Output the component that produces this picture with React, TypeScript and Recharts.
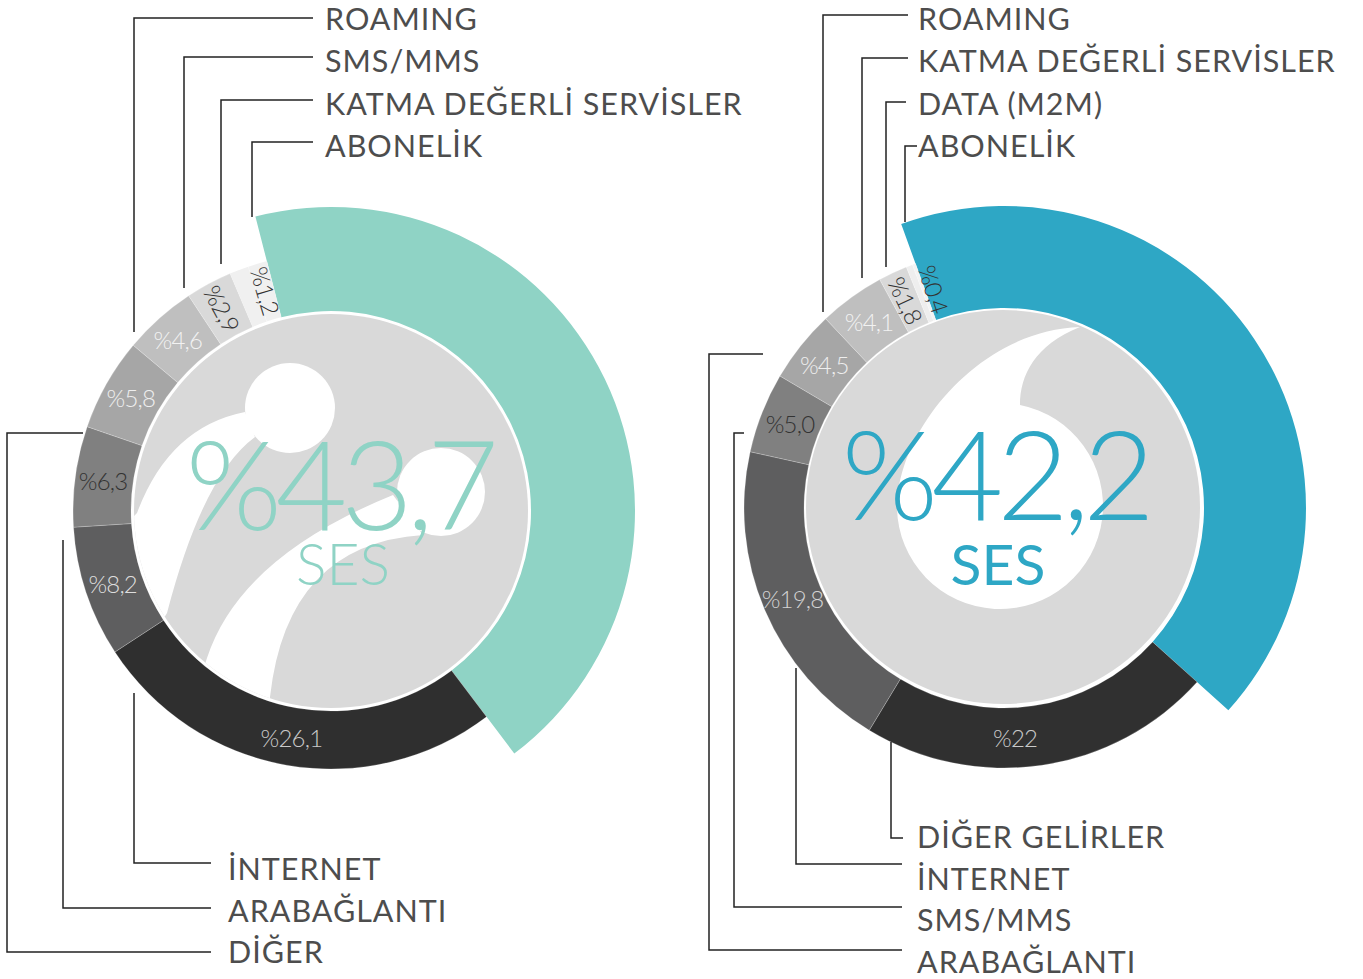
import { PieChart, Pie, Cell } from "recharts";

// left donut, clockwise from the top edge of the SES slice
const leftCategories = ["SES", "İNTERNET", "ARABAĞLANTI", "DİĞER", "ROAMING", "SMS/MMS", "KATMA DEĞERLİ SERVİSLER", "", "ABONELİK"];
const leftValues = [43.7, 26.1, 8.2, 6.3, 5.8, 4.6, 2.9, 1.2, 1.2];
const leftLabels = ["%43,7", "%26,1", "%8,2", "%6,3", "%5,8", "%4,6", "%2,9", "", "%1,2"];

// right donut
const rightCategories = ["SES", "DİĞER GELİRLER", "İNTERNET", "SMS/MMS", "ARABAĞLANTI", "ROAMING", "KATMA DEĞERLİ SERVİSLER", "DATA (M2M)", "ABONELİK"];
const rightValues = [42.2, 22, 19.8, 5.0, 4.5, 4.1, 1.8, 0.4, 0.2];
const rightLabels = ["%42,2", "%22", "%19,8", "%5,0", "%4,5", "%4,1", "%1,8", "%0,4", ""];

const leftTopLegend = ["ROAMING", "SMS/MMS", "KATMA DEĞERLİ SERVİSLER", "ABONELİK"];
const leftBottomLegend = ["İNTERNET", "ARABAĞLANTI", "DİĞER"];
const rightTopLegend = ["ROAMING", "KATMA DEĞERLİ SERVİSLER", "DATA (M2M)", "ABONELİK"];
const rightBottomLegend = ["DİĞER GELİRLER", "İNTERNET", "SMS/MMS", "ARABAĞLANTI"];

const leftData = leftCategories.map((name, i) => ({ name, value: leftValues[i], label: leftLabels[i] }));
const rightData = rightCategories.map((name, i) => ({ name, value: rightValues[i], label: rightLabels[i] }));

const TEAL = "#8fd3c5";
const BLUE = "#2ea7c5";
const leftFills = [TEAL, "#2f2f2f", "#5e5e5f", "#808080", "#a6a6a6", "#bfbfbf", "#d9d9d9", "#f0f0f0", "#f0f0f0"];
const leftText = ["", "#c9c9c9", "#dddddd", "#333333", "#eeeeee", "#f2f2f2", "#333333", "", "#333333"];
const rightFills = [BLUE, "#303030", "#5e5e5f", "#808080", "#a6a6a6", "#bfbfbf", "#d9d9d9", "#eeeeee", "#f3f3f3"];
const rightText = ["", "#c9c9c9", "#d2d2d2", "#333333", "#eeeeee", "#f2f2f2", "#333333", "#333333", ""];
const rightShift: Record<string, number> = { "DİĞER GELİRLER": -5.6, "DATA (M2M)": -3.6 };

const FONT = "Lato, 'Open Sans', sans-serif";
const RAD = Math.PI / 180;

const L = { cx: 331, cy: 511, start: 104.4 };
const R = { cx: 1004, cy: 508, start: 109.9 };

function makeLabel(textColors: string[], shift: Record<string, number>) {
  return (p: any) => {
    const { cx, cy, midAngle, index, name, value, payload } = p;
    const text = payload?.label ?? p.label;
    if (!name || name === "SES" || !textColors[index] || !text) return null;
    const ang = midAngle + (shift[name] ?? 0);
    const r = 230;
    const x = cx + r * Math.cos(ang * RAD);
    const y = cy - r * Math.sin(ang * RAD);
    const small = value < 3.5;
    return (
      <text
        x={x}
        y={y}
        fill={textColors[index]}
        textAnchor="middle"
        dominantBaseline="central"
        fontFamily={FONT}
        fontWeight={300}
        fontSize={24}
        letterSpacing={-0.8}
        transform={small ? `rotate(${180 - ang} ${x} ${y})` : undefined}
      >
        {text}
      </text>
    );
  };
}

const leftLeaders = [
  "M313 18H134V332",
  "M313 57H184V288",
  "M313 100H221V264",
  "M313 142H252V217",
  "M211 863H134V693",
  "M211 908H63V540",
  "M211 952H7V433H83",
];
const rightLeaders = [
  "M908 15H823V312",
  "M908 58H862V278",
  "M906 102H886V267",
  "M917 146H905V222",
  "M903 838H891V742",
  "M902 864H796V668",
  "M902 907H734V433H744",
  "M902 950H709V354H763",
];

function Legend({ items, x, y0, step }: { items: string[]; x: number; y0: number; step: number }) {
  return (
    <>
      {items.map((t, i) => (
        <text key={t + i} x={x} y={y0 + i * step} fontFamily={FONT} fontSize={30.5} fill="#4d4d4d" letterSpacing={1}>
          {t}
        </text>
      ))}
    </>
  );
}

export default function App() {
  return (
    <div style={{ position: "absolute", left: 0, top: 0, width: 1363, height: 979, background: "#fff" }}>
      <PieChart width={1363} height={979} margin={{ top: 0, right: 0, bottom: 0, left: 0 }}>
        {/* big SES slices */}
        <Pie
          data={leftData}
          dataKey="value"
          nameKey="name"
          cx={L.cx}
          cy={L.cy}
          innerRadius={200}
          outerRadius={304}
          startAngle={L.start}
          endAngle={L.start - 360}
          isAnimationActive={false}
          stroke="none"
        >
          {leftData.map((d, i) => (
            <Cell key={i} fill={i === 0 ? TEAL : "none"} />
          ))}
        </Pie>
        <Pie
          data={rightData}
          dataKey="value"
          nameKey="name"
          cx={R.cx}
          cy={R.cy}
          innerRadius={200}
          outerRadius={302}
          startAngle={R.start}
          endAngle={R.start - 360}
          isAnimationActive={false}
          stroke="none"
        >
          {rightData.map((d, i) => (
            <Cell key={i} fill={i === 0 ? BLUE : "none"} />
          ))}
        </Pie>
        {/* grey rings */}
        <Pie
          data={leftData}
          dataKey="value"
          nameKey="name"
          cx={L.cx}
          cy={L.cy}
          innerRadius={200}
          outerRadius={258}
          startAngle={L.start}
          endAngle={L.start - 360}
          isAnimationActive={false}
          label={makeLabel(leftText, {})}
          labelLine={false}
        >
          {leftData.map((d, i) => (
            <Cell
              key={i}
              fill={i === 0 ? "none" : leftFills[i]}
              stroke={i === 0 || i === 7 ? "none" : "#ffffff"}
              strokeOpacity={0.35}
              strokeWidth={0.6}
            />
          ))}
        </Pie>
        <Pie
          data={rightData}
          dataKey="value"
          nameKey="name"
          cx={R.cx}
          cy={R.cy}
          innerRadius={200}
          outerRadius={260}
          startAngle={R.start}
          endAngle={R.start - 360}
          isAnimationActive={false}
          label={makeLabel(rightText, rightShift)}
          labelLine={false}
        >
          {rightData.map((d, i) => (
            <Cell
              key={i}
              fill={i === 0 ? "none" : rightFills[i]}
              stroke={i === 0 ? "none" : "#ffffff"}
              strokeOpacity={0.35}
              strokeWidth={0.6}
            />
          ))}
        </Pie>
      </PieChart>

      <svg width={1363} height={979} style={{ position: "absolute", left: 0, top: 0, pointerEvents: "none" }}>
        <defs>
          <clipPath id="diskL">
            <circle cx={L.cx} cy={L.cy} r={197} />
          </clipPath>
          <clipPath id="diskR">
            <circle cx={R.cx - 1} cy={R.cy - 1} r={197} />
          </clipPath>
        </defs>

        {/* left disk + logo */}
        <circle cx={L.cx} cy={L.cy} r={197} fill="#d9d9d9" />
        <g clipPath="url(#diskL)" fill="#fff">
          <circle cx={290} cy={408} r={45} />
          <circle cx={441} cy={492} r={44} />
          <path d="M245 412Q169 427 137 513L90 560L120 690L167 613Q203 475 255 437Z" />
          <path d="M393 495Q240 557 207 658L180 740L265 745L270 697Q287 544 423 535Z" />
        </g>
        <text x={339} y={530} textAnchor="middle" fontFamily={FONT} fontWeight={300} fontSize={124} letterSpacing={-6.5} fill={TEAL}>
          %43,7
        </text>
        <text x={343} y={585} textAnchor="middle" fontFamily={FONT} fontWeight={300} fontSize={57} fill={TEAL}>
          SES
        </text>

        {/* right disk + logo */}
        <circle cx={R.cx - 1} cy={R.cy - 1} r={197} fill="#d9d9d9" />
        <g clipPath="url(#diskR)" fill="#fff">
          <path d="M1020 405A103 103 0 1 1 897 508C897 430 980 330 1080 327C1035 345 1020 375 1020 405Z" />
        </g>
        <text x={995} y={520} textAnchor="middle" fontFamily={FONT} fontWeight={300} fontSize={124} letterSpacing={-6.5} fill={BLUE}>
          %42,2
        </text>
        <text x={998} y={585} textAnchor="middle" fontFamily={FONT} fontWeight={400} fontSize={57} fill={BLUE}>
          SES
        </text>

        {/* leader lines */}
        <g fill="none" stroke="#222" strokeWidth={1.5}>
          {leftLeaders.concat(rightLeaders).map((d, i) => (
            <path key={i} d={d} />
          ))}
        </g>

        <Legend items={leftTopLegend} x={325} y0={30} step={42.3} />
        <Legend items={leftBottomLegend} x={228} y0={880} step={41.5} />
        <Legend items={rightTopLegend} x={918} y0={30} step={42.3} />
        <Legend items={rightBottomLegend} x={917} y0={848} step={41.6} />
      </svg>
    </div>
  );
}
